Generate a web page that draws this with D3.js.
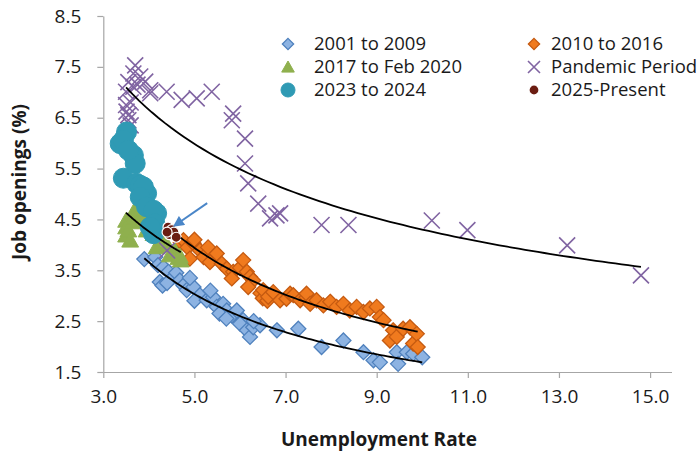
<!DOCTYPE html>
<html>
<head>
<meta charset="utf-8">
<script src="https://cdn.jsdelivr.net/npm/d3@7"></script>
<style>
  body { margin: 0; background: #fff; }
  svg text { font-family: "Open Sans", "Liberation Sans", sans-serif; fill: #1a1a1a; }
</style>
</head>
<body>
<svg id="chart" width="697" height="454"></svg>
<script>
// Unemployment rate (x) vs job openings rate (y), monthly, grouped by period
const ticksX = [3, 5, 7, 9, 11, 13, 15];
const ticksY = [1.5, 2.5, 3.5, 4.5, 5.5, 6.5, 7.5, 8.5];

const p2001to2009 = [
  [3.9,3.72],[4.14,3.76],[4.2,3.6],[4.32,3.56],[4.43,3.47],[4.24,3.27],[4.3,3.2],[4.54,3.37],
  [4.6,3.45],[4.68,3.3],[4.4,3.25],[4.76,3.2],[4.83,3.11],[4.98,3.17],[4.9,3.35],[5.12,3.01],
  [5.0,2.9],[5.27,2.91],[5.41,2.97],[5.35,3.1],[5.49,2.78],[5.63,2.84],[5.71,2.71],[5.55,2.65],
  [5.82,2.61],[5.93,2.71],[5.7,2.55],[6.07,2.52],[6.0,2.45],[6.15,2.32],[6.22,2.19],[6.29,2.38],
  [6.44,2.42],[6.3,2.5],[6.81,2.32],[7.28,2.35],[7.79,1.99],[8.27,2.12],[8.71,1.89],[8.93,1.73],
  [9.07,1.69],[9.44,1.89],[9.47,1.66],[9.66,1.89],[9.8,1.86],[10.0,1.79]
];
const p2010to2016 = [
  [4.7,4.05],[4.76,4.09],[4.85,3.95],[4.98,4.03],[5.0,4.1],[5.12,3.89],[4.9,3.73],[5.2,3.76],
  [5.3,3.95],[5.34,3.66],[5.49,3.83],[5.6,3.63],[5.71,3.53],[5.85,3.47],[5.82,3.34],[6.0,3.55],
  [6.07,3.7],[6.15,3.47],[6.22,3.37],[6.29,3.3],[6.18,3.17],[6.45,3.05],[6.5,2.95],[6.51,3.11],
  [6.6,2.9],[6.62,2.98],[6.73,3.07],[6.88,2.91],[7.02,2.94],[7.1,3.04],[7.17,3.01],[7.32,2.91],
  [7.46,2.97],[7.46,3.04],[7.54,2.84],[7.68,2.91],[7.83,2.81],[7.98,2.88],[8.12,2.78],[8.27,2.84],
  [8.41,2.71],[8.56,2.78],[8.71,2.68],[8.85,2.75],[9.0,2.78],[9.07,2.58],[9.15,2.52],[9.29,2.12],
  [9.36,2.32],[9.44,2.19],[9.58,2.35],[9.73,2.38],[9.8,2.06],[9.88,2.25],[9.9,1.99]
];
const p2017toFeb2020 = [
  [3.5,4.48],[3.5,4.35],[3.5,4.19],[3.55,4.29],[3.59,4.09],[3.6,4.5],[3.65,4.45],[3.7,4.55],
  [3.7,4.6],[3.7,4.7],[3.77,4.75],[3.8,4.65],[3.8,4.75],[3.88,4.8],[3.9,4.6],[3.9,4.7],
  [4.0,4.5],[3.95,4.29],[4.1,4.22],[4.17,3.96],[4.28,4.12],[4.4,4.0],[4.46,3.8],[4.57,3.89],
  [4.65,3.75],[4.68,3.78],[4.7,3.7]
];
const pPandemic = [
  [4.4,3.89],[14.8,3.4],[13.18,3.99],[10.99,4.29],[10.21,4.48],[8.38,4.39],[7.79,4.39],[6.88,4.62],
  [6.8,4.58],[6.66,4.52],[6.4,4.81],[6.18,5.21],[6.11,5.6],[6.11,6.09],[5.82,6.45],[5.85,6.58],
  [5.38,7.01],[5.05,6.88],[4.72,6.85],[4.39,7.01],[4.03,6.98],[4.03,7.04],[3.92,7.21],[3.81,7.31],
  [3.66,7.37],[3.7,7.53],[3.66,7.11],[3.5,7.01],[3.51,6.62],[3.55,6.45],[3.6,6.8],[3.55,7.2],
  [3.75,7.15],[3.5,6.75],[3.55,6.55],[3.6,6.35]
];
const p2023to2024 = [
  [3.51,6.22],[3.37,5.99],[3.44,6.06],[3.66,5.76],[3.7,5.6],[3.55,5.86],[3.44,5.31],[3.73,5.21],
  [3.81,5.17],[3.95,5.01],[3.88,5.14],[3.81,4.94],[3.95,4.75],[4.17,4.62],[4.1,4.68],[4.13,4.42],
  [4.1,4.22],[4.03,4.35]
];
const p2025 = [[4.42,4.35],[4.5,4.3],[4.45,4.2],[4.55,4.25],[4.6,4.15],[4.4,4.25]];

// arrow pointing at the latest readings: [tail, head] in data units
const arrowPts = [[5.28,4.82],[4.6,4.4]];

const svg = d3.select("#chart");
const x = d3.scaleLinear().domain([3, 15.47]).range([103.3, 671.5]);
const y = d3.scaleLinear().domain([1.5, 8.5]).range([372, 16]);
const axisColor = "#a6a6a6";

// axes
const gx = svg.append("g").attr("transform", `translate(0,${y(1.5)})`)
  .call(d3.axisBottom(x).tickValues(ticksX).tickFormat(d3.format(".1f"))
    .tickSize(6).tickSizeOuter(0).tickPadding(12));
const gy = svg.append("g").attr("transform", `translate(${x(3)},0)`)
  .call(d3.axisLeft(y).tickValues(ticksY).tickFormat(d3.format(".1f"))
    .tickSize(6).tickSizeOuter(0).tickPadding(16));
[gx, gy].forEach(g => {
  g.select(".domain").attr("stroke", axisColor).attr("stroke-width", 1.2);
  g.selectAll(".tick line").attr("stroke", axisColor).attr("stroke-width", 1.2);
  g.selectAll(".tick text").style("font-size", "19px").attr("fill", "#1a1a1a");
});

svg.append("text").attr("x", 379).attr("y", 446).attr("text-anchor", "middle")
  .style("font-size", "19px").style("font-weight", "bold").text("Unemployment Rate");
svg.append("text").attr("transform", "translate(26,182) rotate(-90)").attr("text-anchor", "middle")
  .style("font-size", "19px").style("font-weight", "bold").text("Job openings (%)");

// marker shapes
const diamond = s => `M0,${-s}L${s},0L0,${s}L${-s},0Z`;
const triangle = s => `M0,${-s}L${s * 1.05},${s * 0.85}L${-s * 1.05},${s * 0.85}Z`;
const cross = s => `M${-s},${-s}L${s},${s}M${-s},${s}L${s},${-s}`;

const styles = {
  blue:   { shape: "diamond", size: 7.5, fill: "#8db3e2", stroke: "#4f81bd", sw: 1.3 },
  orange: { shape: "diamond", size: 7.5, fill: "#f07a1e", stroke: "#c55a11", sw: 1.3 },
  green:  { shape: "triangle", size: 8, fill: "#8fb04e", stroke: "#8fb04e", sw: 1 },
  purple: { shape: "cross", size: 8, fill: "none", stroke: "#8064a2", sw: 1.6 },
  teal:   { shape: "circle", size: 10, fill: "#2f9ab4", stroke: "#2f9ab4", sw: 1 },
  brown:  { shape: "circle", size: 5, fill: "#6b1d12", stroke: "#ffffff", sw: 1.2 }
};

function drawMarker(g, st, scale) {
  const s = st.size * (scale || 1);
  if (st.shape === "circle") {
    return g.append("circle").attr("r", s).attr("fill", st.fill)
      .attr("stroke", st.stroke).attr("stroke-width", st.sw);
  }
  const d = st.shape === "diamond" ? diamond(s) : st.shape === "triangle" ? triangle(s) : cross(s);
  return g.append("path").attr("d", d).attr("fill", st.fill)
    .attr("stroke", st.stroke).attr("stroke-width", st.sw);
}

const series = [
  { name: "2001 to 2009", pts: p2001to2009, st: styles.blue },
  { name: "2010 to 2016", pts: p2010to2016, st: styles.orange },
  { name: "2017 to Feb 2020", pts: p2017toFeb2020, st: styles.green },
  { name: "Pandemic Period", pts: pPandemic, st: styles.purple },
  { name: "2023 to 2024", pts: p2023to2024, st: styles.teal },
  { name: "2025-Present", pts: p2025, st: styles.brown }
];

const plot = svg.append("g");
series.forEach(s => {
  const g = plot.append("g");
  s.pts.forEach(p => {
    const m = g.append("g").attr("transform", `translate(${x(p[0])},${y(p[1])})`);
    drawMarker(m, s.st);
  });
});

// power trendlines (least squares on ln x, ln y), spanning each series' x range
function powerFit(pts) {
  const n = pts.length;
  let sx = 0, sy = 0, sxx = 0, sxy = 0;
  pts.forEach(([a, b]) => {
    const lx = Math.log(a), ly = Math.log(b);
    sx += lx; sy += ly; sxx += lx * lx; sxy += lx * ly;
  });
  const b = (n * sxy - sx * sy) / (n * sxx - sx * sx);
  const a = Math.exp((sy - b * sx) / n);
  return v => a * Math.pow(v, b);
}
const line = d3.line().x(d => x(d[0])).y(d => y(d[1]));
[p2001to2009, p2010to2016, p2017toFeb2020, pPandemic].forEach(pts => {
  const f = powerFit(pts);
  const [lo, hi] = d3.extent(pts, d => d[0]);
  const xs = d3.range(0, 81).map(i => lo + (hi - lo) * i / 80);
  plot.append("path").attr("d", line(xs.map(v => [v, f(v)])))
    .attr("fill", "none").attr("stroke", "#000").attr("stroke-width", 1.8);
});

// arrow
const defs = svg.append("defs");
defs.append("marker").attr("id", "ah").attr("viewBox", "0 0 10 10").attr("refX", 2).attr("refY", 5)
  .attr("markerWidth", 6).attr("markerHeight", 5.5).attr("orient", "auto")
  .append("path").attr("d", "M0,0L10,5L0,10Z").attr("fill", "#4a86c8");
plot.append("line")
  .attr("x1", x(arrowPts[0][0])).attr("y1", y(arrowPts[0][1]))
  .attr("x2", x(arrowPts[1][0]) + 4).attr("y2", y(arrowPts[1][1]) - 2.8)
  .attr("stroke", "#4a86c8").attr("stroke-width", 2).attr("marker-end", "url(#ah)");

// legend: two columns, filled row by row
const legend = svg.append("g");
const colX = [288, 534], rowY = [44, 67, 90], textDx = [26, 17];
series.forEach((s, i) => {
  const cx = colX[i % 2], cy = rowY[Math.floor(i / 2)];
  const m = legend.append("g").attr("transform", `translate(${cx},${cy})`);
  const lst = Object.assign({}, s.st);
  if (s.st.shape === "circle") lst.size = s.st === styles.brown ? 5 : 7;
  else lst.size = s.st.size * 0.75;
  drawMarker(m, lst);
  legend.append("text").attr("x", cx + textDx[i % 2]).attr("y", cy).attr("dy", "0.35em")
    .style("font-size", "18.5px").text(s.name);
});
</script>
</body>
</html>
